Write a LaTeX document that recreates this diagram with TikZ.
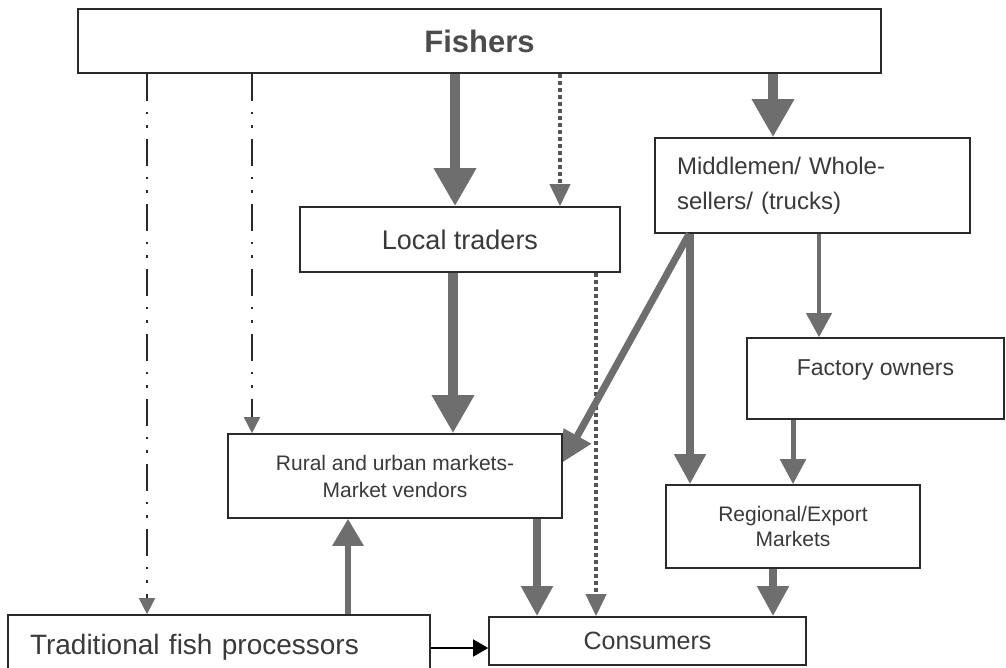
\documentclass[tikz,border=0pt]{standalone}
\usepackage{fontspec}
\setmainfont{Liberation Sans}
\usetikzlibrary{arrows.meta}
\definecolor{arrgray}{HTML}{6E6E6E}
\definecolor{dotgray}{HTML}{555555}
\definecolor{boxline}{HTML}{2A2A2A}
\definecolor{txt}{HTML}{3A3A3A}

\begin{document}
\begin{tikzpicture}
	[x=1pt, y=-1pt,
	main/.style = {draw=boxline, line width=1.6pt, rectangle, text=txt, inner sep=0pt, align=center},
	big/.style = {draw=arrgray, line width=10pt, -{Triangle[width=40pt,length=38pt]}},
	mid/.style = {draw=arrgray, line width=8pt, -{Triangle[width=30pt,length=30pt]}},
	small/.style = {draw=arrgray, line width=5pt, -{Triangle[width=25pt,length=25pt]}},
	dashdot/.style = {draw=boxline, line width=1.5pt, dash pattern=on 27pt off 11pt on 2.5pt off 11pt on 2.5pt off 11pt, -{Triangle[width=16pt,length=16pt,color=arrgray]}},
	dots/.style = {draw=dotgray, line width=4pt, dash pattern=on 4pt off 3pt, -{Triangle[width=20pt,length=22pt,color=arrgray]}}]
	\useasboundingbox[fill=white] (0,0) rectangle (1006,667);
	\node[main, minimum width=803pt, minimum height=64pt, text=black!70, font=\bfseries\fontsize{31}{36}\selectfont] (fish) at (479.5,41) {Fishers};
	\node[main, minimum width=320pt, minimum height=65pt, font=\fontsize{27}{32}\selectfont] (local) at (460,239.5) {Local traders};
	\node[main, text width=271pt, inner xsep=22pt, align=left, minimum height=95pt, font=\fontsize{24}{35}\selectfont] (mid) at (812.5,185.5) {Middlemen/ Whole-\\sellers/ (trucks)};
	\node[main, minimum width=257pt, minimum height=81pt, text height=17pt, text depth=23pt, font=\fontsize{23}{28}\selectfont] (fact) at (875.5,378.5) {Factory owners};
	\node[main, minimum width=334pt, minimum height=84pt, font=\fontsize{21}{27}\selectfont] (rural) at (395,476) {Rural and urban markets-\\Market vendors};
	\node[main, minimum width=254pt, minimum height=83pt, font=\fontsize{21}{25}\selectfont] (reg) at (793,526.5) {Regional/Export\\Markets};
	\node[main, text width=378pt, inner xsep=22pt, align=left, minimum height=65pt, font=\fontsize{28}{32}\selectfont] (trad) at (219,647.5) {Traditional fish processors};
	\node[main, minimum width=317pt, minimum height=48pt, font=\fontsize{25}{30}\selectfont] (cons) at (647.5,641) {Consumers};
	% from the fishers
	\draw[dashdot] (fish.south -| 147,0) -- (trad.north -| 147,0);
	\draw[dashdot] (fish.south -| 252,0) -- (rural.north -| 252,0);
	\draw[big] (fish.south -| 455,0) -- (local.north -| 455,0);
	\draw[dots] (fish.south -| 560,0) -- (local.north -| 560,0);
	\draw[big] (fish.south -| 773,0) -- (mid.north -| 773,0);
	% traders and middlemen
	\draw[big] (local.south -| 453,0) -- (rural.north -| 453,0);
	\draw[dots] (local.south -| 596,0) -- (cons.north -| 596,0);
	\draw[draw=arrgray, line width=7pt, -{Triangle[width=30pt,length=30pt]}] ([xshift=35pt]mid.south west) -- ([yshift=-29pt]rural.north east);
	\draw[mid] (mid.south -| 690,0) -- (reg.north -| 690,0);
	\draw[draw=arrgray, line width=4pt, -{Triangle[width=25pt,length=24pt]}] (mid.south -| 819,0) -- (fact.north -| 819,0);
	\draw[small] (fact.south -| 793,0) -- (reg.north -| 793,0);
	% to the consumers
	\draw[mid] (rural.south -| 537,0) -- (cons.north -| 537,0);
	\draw[mid] (reg.south -| 773,0) -- (cons.north -| 773,0);
	\draw[draw=arrgray, line width=6pt, -{Triangle[width=30pt,length=27pt]}] (trad.north -| 348,0) -- (rural.south -| 348,0);
	\draw[draw=black, line width=1.5pt, -{Triangle[width=17pt,length=15pt]}] (trad.east |- 0,648) -- (cons.west |- 0,648);
\end{tikzpicture}
\end{document}
